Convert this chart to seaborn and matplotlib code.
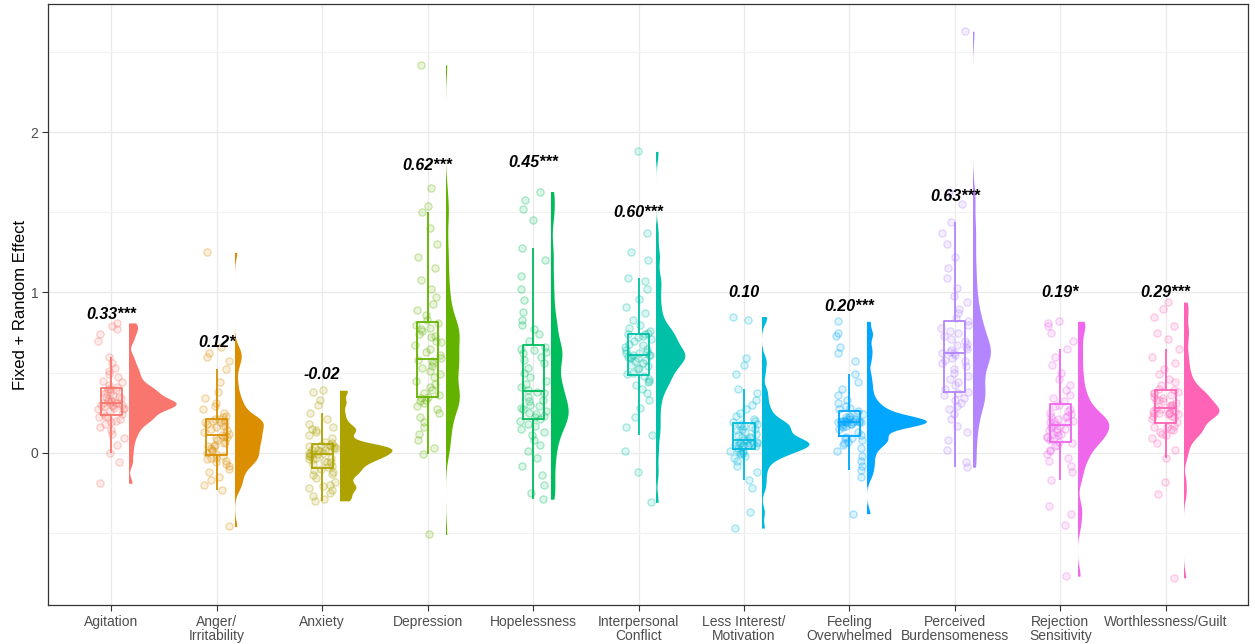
import numpy as np
import pandas as pd
import matplotlib
matplotlib.use("Agg")
import matplotlib.pyplot as plt
from matplotlib import transforms
from matplotlib.patches import Rectangle
import seaborn as sns

categories = ["Agitation", "Anger/Irritability", "Anxiety", "Depression", "Hopelessness",
              "Interpersonal Conflict", "Less Interest/Motivation", "Feeling Overwhelmed",
              "Perceived Burdensomeness", "Rejection Sensitivity", "Worthlessness/Guilt"]
tick_labels = ["Agitation", "Anger/\nIrritability", "Anxiety", "Depression", "Hopelessness",
               "Interpersonal\nConflict", "Less Interest/\nMotivation", "Feeling\nOverwhelmed",
               "Perceived\nBurdensomeness", "Rejection\nSensitivity", "Worthlessness/Guilt"]
estimates = ["0.33***", "0.12*", "-0.02", "0.62***", "0.45***", "0.60***",
             "0.10", "0.20***", "0.63***", "0.19*", "0.29***"]
estimate_y = [0.86, 0.69, 0.49, 1.79, 1.81, 1.50, 1.00, 0.91, 1.60, 1.00, 1.00]

palette = ["#F8766D", "#DB8E00", "#AEA200", "#64B200", "#00BD5C", "#00C1A7",
           "#00BADE", "#00A6FF", "#B385FF", "#EF67EB", "#FF63B6"]

# Per-participant fixed + random effect estimates for each symptom
agitation = [-0.19, -0.06, 0.00, 0.05, 0.09, 0.12, 0.14, 0.16, 0.18, 0.19, 0.20, 0.21, 0.22, 0.22, 0.23,
             0.24, 0.25, 0.26, 0.27, 0.27, 0.28, 0.28, 0.29, 0.29, 0.30, 0.30, 0.30, 0.31, 0.31, 0.31,
             0.31, 0.32, 0.32, 0.33, 0.33, 0.34, 0.35, 0.35, 0.36, 0.37, 0.38, 0.38, 0.39, 0.40, 0.40,
             0.41, 0.42, 0.44, 0.45, 0.47, 0.49, 0.51, 0.53, 0.56, 0.60, 0.70, 0.74, 0.77, 0.79, 0.81]
anger = [-0.46, -0.23, -0.20, -0.17, -0.15, -0.12, -0.10, -0.08, -0.07, -0.06, -0.05, -0.04, -0.03, -0.03, -0.02,
         -0.01, 0.00, 0.01, 0.02, 0.03, 0.04, 0.04, 0.05, 0.06, 0.07, 0.08, 0.09, 0.10, 0.10, 0.11,
         0.11, 0.12, 0.13, 0.14, 0.15, 0.16, 0.17, 0.17, 0.18, 0.19, 0.19, 0.20, 0.20, 0.21, 0.21,
         0.22, 0.23, 0.25, 0.27, 0.29, 0.31, 0.34, 0.38, 0.44, 0.52, 0.57, 0.60, 0.62, 0.66, 1.25]
anxiety = [-0.30, -0.29, -0.27, -0.25, -0.23, -0.22, -0.21, -0.20, -0.18, -0.16, -0.14, -0.13, -0.12, -0.11, -0.10,
           -0.09, -0.08, -0.07, -0.06, -0.06, -0.05, -0.04, -0.04, -0.03, -0.03, -0.02, -0.02, -0.01, -0.01, -0.01,
           0.00, 0.00, 0.01, 0.01, 0.02, 0.02, 0.02, 0.03, 0.03, 0.03, 0.04, 0.04, 0.04, 0.05, 0.05,
           0.06, 0.07, 0.09, 0.11, 0.13, 0.14, 0.15, 0.16, 0.18, 0.21, 0.25, 0.30, 0.33, 0.38, 0.39]
depression = [-0.51, -0.01, 0.03, 0.08, 0.12, 0.16, 0.19, 0.22, 0.25, 0.27, 0.29, 0.31, 0.32, 0.33, 0.34,
              0.35, 0.36, 0.37, 0.39, 0.41, 0.43, 0.45, 0.47, 0.49, 0.51, 0.53, 0.54, 0.56, 0.57, 0.58,
              0.59, 0.61, 0.63, 0.65, 0.67, 0.69, 0.70, 0.72, 0.73, 0.74, 0.76, 0.77, 0.78, 0.80, 0.81,
              0.83, 0.86, 0.89, 0.93, 0.97, 1.02, 1.08, 1.15, 1.22, 1.30, 1.40, 1.50, 1.54, 1.65, 2.42]
hopelessness = [-0.29, -0.25, -0.20, -0.14, -0.08, -0.03, 0.01, 0.05, 0.08, 0.11, 0.13, 0.15, 0.17, 0.18, 0.20,
                0.21, 0.22, 0.23, 0.24, 0.25, 0.26, 0.27, 0.28, 0.29, 0.30, 0.32, 0.33, 0.35, 0.37, 0.38,
                0.39, 0.41, 0.43, 0.45, 0.47, 0.50, 0.53, 0.56, 0.58, 0.60, 0.62, 0.63, 0.64, 0.65, 0.66,
                0.70, 0.74, 0.77, 0.80, 0.83, 0.88, 0.95, 1.02, 1.10, 1.20, 1.28, 1.45, 1.52, 1.58, 1.63]
interpersonal = [-0.31, -0.12, 0.01, 0.11, 0.16, 0.22, 0.28, 0.33, 0.37, 0.40, 0.42, 0.44, 0.45, 0.46, 0.48,
                 0.49, 0.50, 0.52, 0.53, 0.54, 0.55, 0.56, 0.57, 0.58, 0.59, 0.59, 0.60, 0.60, 0.61, 0.61,
                 0.61, 0.62, 0.62, 0.63, 0.64, 0.65, 0.66, 0.67, 0.68, 0.70, 0.71, 0.72, 0.73, 0.74, 0.74,
                 0.75, 0.76, 0.78, 0.80, 0.83, 0.87, 0.91, 0.96, 1.02, 1.07, 1.09, 1.20, 1.25, 1.37, 1.88]
less_interest = [-0.47, -0.37, -0.22, -0.17, -0.12, -0.08, -0.05, -0.03, -0.02, -0.01, 0.00, 0.00, 0.01, 0.01, 0.01,
                 0.03, 0.04, 0.04, 0.05, 0.05, 0.05, 0.05, 0.05, 0.06, 0.06, 0.06, 0.06, 0.06, 0.07, 0.08,
                 0.08, 0.09, 0.10, 0.10, 0.11, 0.12, 0.13, 0.14, 0.15, 0.15, 0.16, 0.17, 0.17, 0.18, 0.18,
                 0.19, 0.20, 0.21, 0.23, 0.25, 0.27, 0.30, 0.33, 0.37, 0.40, 0.49, 0.55, 0.59, 0.83, 0.85]
overwhelmed = [-0.38, -0.15, -0.11, -0.08, -0.05, -0.02, 0.01, 0.03, 0.05, 0.06, 0.07, 0.08, 0.09, 0.09, 0.10,
               0.11, 0.13, 0.15, 0.16, 0.17, 0.17, 0.18, 0.18, 0.18, 0.19, 0.19, 0.19, 0.19, 0.19, 0.19,
               0.19, 0.20, 0.20, 0.20, 0.20, 0.20, 0.21, 0.21, 0.21, 0.22, 0.22, 0.23, 0.24, 0.25, 0.26,
               0.27, 0.28, 0.29, 0.31, 0.33, 0.36, 0.40, 0.44, 0.49, 0.57, 0.62, 0.66, 0.73, 0.75, 0.82]
burdensomeness = [-0.09, -0.06, 0.02, 0.08, 0.13, 0.17, 0.21, 0.24, 0.27, 0.29, 0.31, 0.33, 0.34, 0.36, 0.37,
                  0.38, 0.40, 0.42, 0.44, 0.46, 0.48, 0.50, 0.52, 0.54, 0.56, 0.57, 0.58, 0.59, 0.61, 0.62,
                  0.62, 0.63, 0.64, 0.65, 0.66, 0.67, 0.68, 0.70, 0.71, 0.73, 0.75, 0.76, 0.78, 0.80, 0.82,
                  0.84, 0.87, 0.90, 0.94, 0.98, 1.03, 1.09, 1.15, 1.22, 1.30, 1.37, 1.44, 1.55, 1.63, 2.63]
rejection = [-0.77, -0.45, -0.38, -0.33, -0.17, -0.12, -0.08, -0.05, -0.03, -0.01, 0.01, 0.02, 0.04, 0.05, 0.06,
             0.07, 0.08, 0.09, 0.10, 0.10, 0.11, 0.12, 0.12, 0.13, 0.14, 0.15, 0.15, 0.16, 0.17, 0.17,
             0.18, 0.19, 0.19, 0.20, 0.20, 0.21, 0.22, 0.22, 0.23, 0.24, 0.25, 0.26, 0.27, 0.29, 0.30,
             0.32, 0.34, 0.36, 0.39, 0.42, 0.46, 0.50, 0.55, 0.60, 0.65, 0.70, 0.75, 0.79, 0.81, 0.82]
worthlessness = [-0.78, -0.26, -0.18, -0.03, 0.02, 0.06, 0.09, 0.11, 0.12, 0.13, 0.14, 0.15, 0.16, 0.16, 0.17,
                 0.19, 0.21, 0.22, 0.23, 0.23, 0.24, 0.24, 0.25, 0.25, 0.25, 0.25, 0.26, 0.26, 0.27, 0.28,
                 0.28, 0.29, 0.30, 0.30, 0.31, 0.32, 0.33, 0.33, 0.34, 0.35, 0.36, 0.37, 0.37, 0.38, 0.39,
                 0.40, 0.42, 0.44, 0.46, 0.49, 0.52, 0.56, 0.60, 0.65, 0.71, 0.75, 0.79, 0.85, 0.90, 0.94]

series = [agitation, anger, anxiety, depression, hopelessness, interpersonal,
          less_interest, overwhelmed, burdensomeness, rejection, worthlessness]
df = pd.DataFrame({
    "symptom": np.repeat(categories, [len(s) for s in series]),
    "effect": np.concatenate(series),
})

plt.rcParams["font.family"] = ["Liberation Sans", "DejaVu Sans"]

fig = plt.figure(figsize=(12.55, 6.44), dpi=100)
ax = fig.add_axes([48 / 1255, 1 - 605 / 644, 1200 / 1255, 601 / 644])
ax.set_facecolor("white")

# half violins (clouds), shifted to the right of each box
n_before = len(ax.collections)
sns.violinplot(data=df, x="symptom", y="effect", hue="symptom", order=categories,
               hue_order=categories, palette=palette, saturation=1, inner=None, cut=0,
               density_norm="area", common_norm=True, bw_adjust=0.35, width=1.12,
               gridsize=200, linewidth=0, legend=False, ax=ax, zorder=2)
cloud_shift = transforms.Affine2D().translate(0.17, 0) + ax.transData
for coll in ax.collections[n_before:]:
    verts = coll.get_paths()[0].vertices
    cx = 0.5 * (verts[:, 0].min() + verts[:, 0].max())
    coll.set_transform(cloud_shift)
    clip = Rectangle((cx, -10), 3, 20, transform=cloud_shift)
    coll.set_clip_path(clip)
    coll.set_alpha(1)

# raw points (rain)
np.random.seed(7)
n_before = len(ax.collections)
sns.stripplot(data=df, x="symptom", y="effect", hue="symptom", order=categories,
              hue_order=categories, palette=palette, jitter=0.13, size=5.2,
              linewidth=0.9, legend=False, ax=ax, zorder=3)
for coll, col in zip(ax.collections[n_before:], palette):
    coll.set_facecolor(matplotlib.colors.to_rgba(col, 0.14))
    coll.set_edgecolor(matplotlib.colors.to_rgba(col, 0.32))

# box plots (no whisker caps)
n_lines = len(ax.lines)
sns.boxplot(data=df, x="symptom", y="effect", hue="symptom", order=categories,
            hue_order=categories, palette=palette, saturation=1, fill=False,
            width=0.2, showfliers=False, linewidth=1.3, whis=1.5,
            legend=False, ax=ax, zorder=4)
for ln in ax.lines[n_lines:]:
    xd = np.asarray(ln.get_xdata(), dtype=float)
    yd = np.asarray(ln.get_ydata(), dtype=float)
    if len(xd) == 2 and yd[0] == yd[1] and np.ptp(xd) < 0.19:
        ln.set_visible(False)

# estimates with significance stars
for i, (txt, yy) in enumerate(zip(estimates, estimate_y)):
    ax.text(i, yy, txt, ha="center", va="center", fontsize=11.5,
            fontweight="bold", fontstyle="italic", color="black", zorder=5)

ax.set_xlim(-0.6, 10.78)
ax.set_ylim(-0.95, 2.8)
ax.set_yticks([0, 1, 2])
ax.set_yticks([-0.5, 0.5, 1.5, 2.5], minor=True)
ax.set_xticks(range(len(categories)))
ax.set_xticklabels(tick_labels, fontsize=10, color="#4D4D4D", linespacing=1.0)
ax.set_yticklabels(["0", "1", "2"], fontsize=10, color="#4D4D4D")
ax.tick_params(axis="both", which="major", length=4, width=0.8, color="#333333", pad=3)
ax.tick_params(axis="y", which="minor", length=0)
ax.grid(which="major", color="#EBEBEB", linewidth=1.0, zorder=0)
ax.grid(which="minor", axis="y", color="#F2F2F2", linewidth=0.8, zorder=0)
ax.set_axisbelow(True)
ax.set_xlabel("")
ax.set_ylabel("Fixed + Random Effect", fontsize=12, color="black", labelpad=2)
for sp in ax.spines.values():
    sp.set_color("#333333")
    sp.set_linewidth(0.9)

fig.savefig("out.png", dpi=100)
